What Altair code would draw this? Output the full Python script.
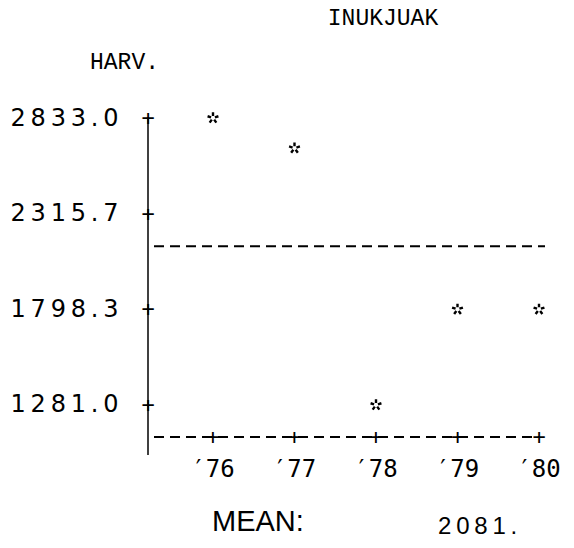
import altair as alt
import pandas as pd

# ---- data ----
YEARS = [76, 77, 78, 79, 80]
YEAR_LABELS = ["′76", "′77", "′78", "′79", "′80"]
HARVEST = [2833.0, 2670.0, 1281.0, 1798.3, 1798.3]
Y_TICKS = [2833.0, 2315.7, 1798.3, 1281.0]
MEAN_ROW = 2140.0          # printed row of the mean line
MEAN_TEXT = "2081."
TITLE = "INUKJUAK"
Y_TITLE = "HARV."
MEAN_LABEL = "MEAN:"

MONO = "DejaVu Sans Mono"
LMONO = "Liberation Mono"
SANS = "DejaVu Sans"
THIN = "\u2009"

# ---- layout ----
W, H = 397, 337
yscale = alt.Scale(domain=[1107.95, 2930.34], nice=False, zero=False)
xscale = alt.Scale(domain=[75.2025, 80.0736], nice=False, zero=False)

pts = pd.DataFrame({"year": YEARS, "harv": HARVEST, "lab": YEAR_LABELS})
ticks = pd.DataFrame({"v": Y_TICKS})
top = pd.DataFrame({"v": [max(Y_TICKS)]})
one = pd.DataFrame({"k": [0]})

star_path = ("M0,-0.35L0,-1M0.333,-0.108L0.951,-0.309M0.206,0.283L0.588,0.809"
             "M-0.206,0.283L-0.588,0.809M-0.333,-0.108L-0.951,-0.309")

# y axis labels (letter-spaced like the printout)
yaxis_layer = alt.Chart(ticks).mark_point(opacity=0).encode(
    y=alt.Y("v:Q", scale=yscale,
            axis=alt.Axis(values=Y_TICKS, labelFont=SANS,
                          labelExpr="join(split(format(datum.value, '.1f'), ''), '" + THIN + "')",
                          labelFontSize=24, labelColor="black", ticks=False,
                          domain=False, grid=False, title=None,
                          labelPadding=30)),
    x=alt.value(0),
)

plus_y = alt.Chart(ticks).mark_text(text="+", font=MONO, fontSize=22,
                                    baseline="middle", align="center",
                                    color="black").encode(
    y=alt.Y("v:Q", scale=yscale), x=alt.value(0))

vline = alt.Chart(top).mark_rule(color="black", strokeWidth=1.5).encode(
    y=alt.Y("v:Q", scale=yscale), y2=alt.value(H + 18), x=alt.value(0))

mean_line = alt.Chart(pd.DataFrame({"v": [MEAN_ROW]})).mark_rule(
    color="black", strokeWidth=2, strokeDash=[10, 6]).encode(
    y=alt.Y("v:Q", scale=yscale), x=alt.value(6), x2=alt.value(W))

base_line = alt.Chart(one).mark_rule(
    color="black", strokeWidth=2, strokeDash=[10, 6]).encode(
    y=alt.value(H), x=alt.value(6), x2=alt.value(W - 6))

plus_x = alt.Chart(pts).mark_text(text="+", font=MONO, fontSize=22,
                                  baseline="middle", align="center",
                                  color="black").encode(
    x=alt.X("year:Q", scale=xscale, axis=None), y=alt.value(H))

xlabels = alt.Chart(pts).mark_text(font=MONO, fontSize=24, baseline="middle",
                                   align="center", color="black").encode(
    x=alt.X("year:Q", scale=xscale), y=alt.value(H + 33), text="lab:N")

stars = alt.Chart(pts).mark_point(shape=star_path, size=130, filled=False,
                                  color="black", strokeWidth=2.4,
                                  opacity=1).encode(
    x=alt.X("year:Q", scale=xscale),
    y=alt.Y("harv:Q", scale=yscale))

def txt(s, x, y, font, size, weight="normal", align="center"):
    return alt.Chart(pd.DataFrame({"t": [s]})).mark_text(
        font=font, fontSize=size, fontWeight=weight, align=align,
        baseline="middle", color="black").encode(
        text="t:N", x=alt.value(x), y=alt.value(y))

spaced = lambda s: THIN.join(list(s))

title = txt(TITLE, 383 - 148, 18 - 100, LMONO, 23)
ytitle = txt(Y_TITLE, 90 - 148, 62 - 100, LMONO, 23, align="left")
mean_lab = txt(MEAN_LABEL, 212 - 148, 522 - 100, "Liberation Sans", 29, align="left")
mean_val = txt(spaced(MEAN_TEXT), 438 - 148, 527 - 100, "Liberation Sans", 24, align="left")

chart = alt.layer(yaxis_layer, vline, plus_y, mean_line, base_line, plus_x,
                  xlabels, stars, title, ytitle, mean_lab, mean_val).properties(
    width=W, height=H,
    padding={"left": 148, "top": 100, "right": 29, "bottom": 111},
    autosize=alt.AutoSizeParams(type="none"),
    background="white",
).configure_view(stroke=None)

chart.save("out.html", embed_options={"renderer": "svg", "actions": False})
